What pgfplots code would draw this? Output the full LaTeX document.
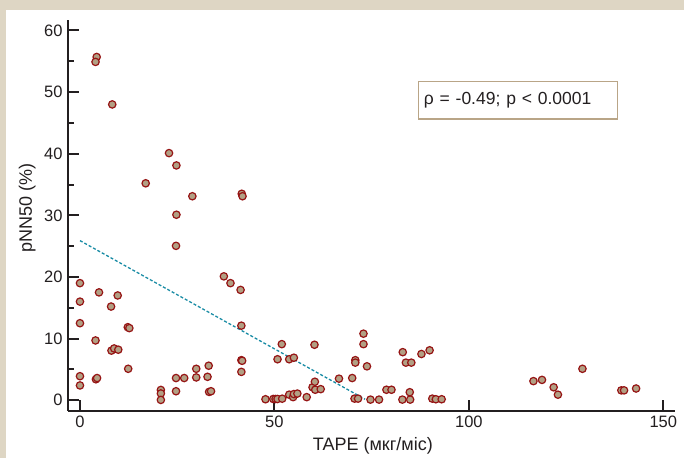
\documentclass[border=0pt]{standalone}
\usepackage{fontspec}
\setmainfont{Liberation Sans}
\usepackage{pgfplots}
\pgfplotsset{compat=1.18}
\definecolor{bg}{RGB}{222,214,196}
\definecolor{txt}{RGB}{35,31,32}
\definecolor{mfill}{RGB}{178,160,132}
\definecolor{medge}{RGB}{150,20,20}
\definecolor{reg}{RGB}{25,140,165}
\definecolor{boxc}{RGB}{185,165,135}
\begin{document}
\fontsize{16.5bp}{19bp}\selectfont
\begin{tikzpicture}
\useasboundingbox (0,0) rectangle (684bp,458bp);
\fill[bg] (0,0) rectangle (684bp,458bp);
\fill[white] (6bp,0) rectangle (684bp,448bp);
\begin{axis}[
  at={(68.3bp,47.3bp)}, anchor=south west, scale only axis,
  width=606.7bp, height=390.7bp,
  xmin=-3, xmax=153, ymin=-1.7, ymax=61.7,
  axis x line=bottom, axis y line=left,
  axis line style={-, line width=2bp, draw=txt},
  xtick={0,50,100,150}, ytick={0,10,...,60}, minor y tick num=1,
  tick align=inside, major tick length=11bp, minor tick length=5.5bp,
  tick style={line width=2bp, draw=txt},
  tick label style={text=txt},
  /pgf/number format/assume math mode=true,
  xlabel={TAPE (мкг/міс)}, ylabel={pNN50 (\%)},
  label style={text=txt, font=\fontsize{18bp}{21bp}\selectfont},
  xlabel style={at={(axis description cs:0.502,-0.1006)}, anchor=base},
  ylabel style={at={(axis description cs:-0.0675,0.519)}, anchor=center},
  clip=false,
]
\addplot[only marks, mark=*, mark size=3.7bp, mark options={fill=mfill, draw=medge, line width=1.2bp}] table {
x y
4.3 55.7
4.0 54.9
8.3 48.0
16.9 35.2
22.9 40.1
24.8 38.1
28.9 33.1
24.8 30.1
41.6 33.5
41.8 33.1
24.7 25.05
37.0 20.1
38.7 19.0
41.3 17.9
41.5 12.1
0 19.0
0 16.0
0 12.5
0 3.9
0 2.4
4.9 17.5
4.0 9.7
4.1 3.4
4.4 3.6
8.0 15.2
9.7 17.0
8.1 8.05
8.8 8.4
9.85 8.2
12.3 11.85
12.7 11.7
12.4 5.1
20.8 1.67
20.8 1.1
20.8 0.05
24.7 3.6
24.7 1.46
26.8 3.6
29.9 5.1
29.9 3.7
33.1 5.6
32.8 3.8
33.2 1.35
33.7 1.46
41.5 6.5
41.7 6.4
41.5 4.6
47.7 0.16
49.7 0.2
50.3 0.2
50.8 0.2
52.0 0.25
51.9 9.1
50.8 6.65
53.8 6.65
55.0 6.9
53.8 0.9
54.8 0.5
55.0 1.0
55.9 1.08
58.3 0.5
60.3 9.0
59.8 2.1
60.4 3.0
60.5 1.7
61.9 1.8
66.6 3.5
70.0 3.6
70.8 6.5
70.8 6.1
72.9 10.8
72.9 9.1
73.8 5.5
70.6 0.26
71.5 0.26
74.7 0.1
76.9 0.1
78.8 1.7
80.1 1.7
83.0 7.8
83.8 6.1
85.2 6.1
82.9 0.1
84.9 0.1
84.8 1.3
87.8 7.5
89.9 8.1
90.6 0.26
91.5 0.16
93.0 0.16
116.6 3.1
118.8 3.3
121.8 2.1
122.9 0.9
129.2 5.1
139.2 1.6
139.9 1.6
143.0 1.9
};
\addplot[reg, dash pattern=on 3bp off 2bp, line width=1.3bp] coordinates {(0,25.9) (73.3,0.16)};
\end{axis}
\node[draw=boxc, line width=1.3bp, anchor=north west, minimum width=199bp, minimum height=37.6bp, text width=188bp, inner xsep=5.5bp, align=left, text=txt, font=\fontsize{17.5bp}{20bp}\selectfont] at (417.7bp,377.3bp) {ρ = -0.49; p < 0.0001};
\end{tikzpicture}
\end{document}
